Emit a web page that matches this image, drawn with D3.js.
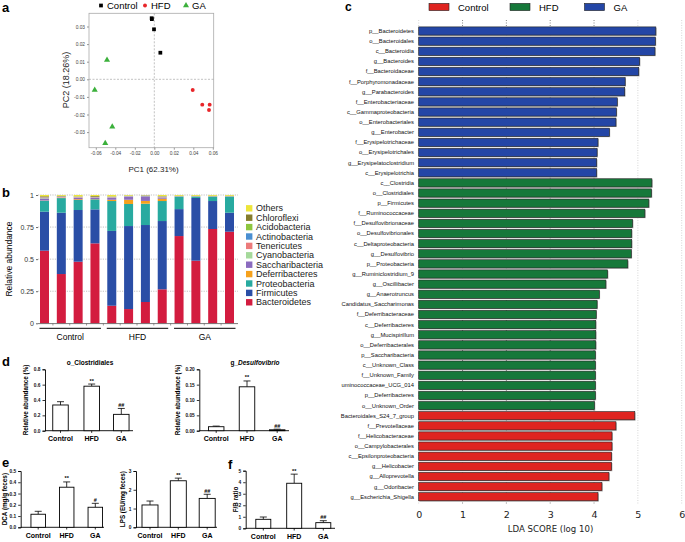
<!DOCTYPE html>
<html><head><meta charset="utf-8">
<script src="https://cdn.jsdelivr.net/npm/d3@7/dist/d3.min.js"></script>
<style>
body{margin:0;background:#fff}
svg{display:block}
text{font-family:"Liberation Sans",Arial,sans-serif}
</style>
</head><body>
<svg id="fig" width="685" height="542"></svg>
<script>
// ---------------- DATA ----------------
// Panel a: PCoA
const pcaControl = [[-0.0027,0.0347],[-0.0025,0.0342],[-0.0003,0.0284],[0.0062,0.0151]];
const pcaHFD     = [[0.0394,-0.0061],[0.0492,-0.0144],[0.0568,-0.0144],[0.0561,-0.0174]];
const pcaGA      = [[-0.0485,0.0110],[-0.0611,-0.0061],[-0.0431,-0.0269],[-0.0503,-0.0364]];
const pcaXTicks = [-0.06,-0.04,-0.02,0,0.02,0.04,0.06];
const pcaYTicks = [-0.03,-0.02,-0.01,0,0.01,0.02,0.03];

// Panel b: relative abundance (12 samples)
const samples = ["C1","C2","C3","C4","H1","H2","H3","H4","G1","G2","G3","G4"];
const sampleGroups = ["Control","HFD","GA"];
const Bacteroidetes    = [0.566,0.384,0.480,0.623,0.137,0.111,0.166,0.265,0.680,0.488,0.735,0.714];
const Firmicutes       = [0.304,0.478,0.403,0.265,0.583,0.647,0.600,0.532,0.210,0.489,0.218,0.148];
const Proteobacteria   = [0.085,0.114,0.078,0.078,0.233,0.172,0.166,0.156,0.097,0.010,0.034,0.125];
const Deferribacteres  = [0.002,0.001,0.006,0.002,0.010,0.033,0.022,0.018,0.001,0.001,0.001,0.001];
const Saccharibacteria = [0.016,0.002,0.012,0.010,0.017,0.024,0.036,0.010,0.001,0.001,0.001,0.001];
const Cyanobacteria    = [0.003,0.002,0.002,0.002,0.002,0.002,0.002,0.002,0.001,0.001,0.001,0.001];
const Tenericutes      = [0.005,0.006,0.003,0.003,0.002,0.002,0.002,0.003,0.001,0.001,0.001,0.001];
const Actinobacteria   = [0.002,0.002,0.002,0.002,0.002,0.002,0.002,0.002,0.001,0.001,0.001,0.001];
const Acidobacteria    = [0.001,0.001,0.001,0.001,0.001,0.001,0.001,0.001,0.001,0.001,0.001,0.001];
const Chloroflexi      = [0.006,0.004,0.002,0.006,0.002,0.001,0.001,0.002,0.001,0.001,0.001,0.001];
const Others           = [0.010,0.006,0.011,0.008,0.011,0.005,0.002,0.009,0.006,0.006,0.006,0.006];
const phyla = ["Bacteroidetes","Firmicutes","Proteobacteria","Deferribacteres","Saccharibacteria",
               "Cyanobacteria","Tenericutes","Actinobacteria","Acidobacteria","Chloroflexi","Others"];
const phylaValues = [Bacteroidetes,Firmicutes,Proteobacteria,Deferribacteres,Saccharibacteria,
                     Cyanobacteria,Tenericutes,Actinobacteria,Acidobacteria,Chloroflexi,Others];
const abundTicks = [0,0.25,0.5,0.75,1];

// Panel c: LEfSe LDA scores
const gaTaxa = ["p__Bacteroidetes","o__Bacteroidales","c__Bacteroidia","g__Bacteroides","f__Bacteroidaceae",
  "f__Porphyromonadaceae","g__Parabacteroides","f__Enterobacteriaceae","c__Gammaproteobacteria",
  "o__Enterobacteriales","g__Enterobacter","f__Erysipelotrichaceae","o__Erysipelotrichales",
  "g__Erysipelatoclostridium","c__Erysipelotrichia"];
const gaScores = [5.41,5.40,5.39,5.04,5.02,4.71,4.70,4.53,4.51,4.50,4.35,4.09,4.07,4.06,4.06];
const hfdTaxa = ["c__Clostridia","o__Clostridiales","p__Firmicutes","f__Ruminococcaceae","f__Desulfovibrionaceae",
  "o__Desulfovibrionales","c__Deltaproteobacteria","g__Desulfovibrio","p__Proteobacteria",
  "g__Ruminiclostridium_9","g__Oscillibacter","g__Anaerotruncus","Candidatus_Saccharimonas",
  "f__Deferribacteraceae","c__Deferribacteres","g__Mucispirillum","o__Deferribacterales",
  "p__Saccharibacteria","c__Unknown_Class","f__Unknown_Family","uminococcaceae_UCG_014",
  "p__Deferribacteres","o__Unknown_Order"];
const hfdScores = [5.32,5.31,5.25,5.16,4.88,4.86,4.86,4.85,4.77,4.31,4.27,4.12,4.07,4.05,4.04,4.04,4.04,
  4.03,4.03,4.03,4.03,4.03,4.01];
const controlTaxa = ["Bacteroidales_S24_7_group","f__Prevotellaceae","f__Helicobacteraceae","o__Campylobacterales",
  "c__Epsilonproteobacteria","g__Helicobacter","g__Alloprevotella","g__Odoribacter","g__Escherichia_Shigella"];
const controlScores = [4.93,4.50,4.41,4.41,4.40,4.40,4.34,4.18,4.09];
const ldaTicks = [0,1,2,3,4,5,6];

// Panels d, e, f: group means and SEM
const groups3 = ["Control","HFD","GA"];
const clostridialesMean = [0.335,0.580,0.213], clostridialesErr = [0.043,0.028,0.077];
const desulfoMean = [0.013,0.143,0.003],      desulfoErr = [0.002,0.019,0.002];
const dcaMean = [0.116,0.356,0.178],          dcaErr = [0.026,0.047,0.035];
const lpsMean = [1.19,2.48,1.54],             lpsErr = [0.21,0.14,0.22];
const fbMean = [0.78,3.91,0.49],              fbErr = [0.20,0.79,0.17];
const sigClostridiales = ["","**","##"];
const sigDesulfo = ["","**","##"];
const sigDCA = ["","**","#"];
const sigLPS = ["","**","##"];
const sigFB = ["","**","##"];

// ---------------- DRAW ----------------
const svg = d3.select("#fig");
function letter(t,x,y){
  svg.append("text").attr("x",x).attr("y",y).text(t)
    .style("font-size","13px").style("font-weight","bold");
}

// ===== Panel a =====
(function(){
  const g = svg.append("g");
  const x = d3.scaleLinear().domain([-0.06,0.06]).range([95.8,212.8]);
  const y = d3.scaleLinear().domain([-0.03,0.03]).range([132.1,26.5]);
  const L=89, R=213.7, T=13.3, B=147.7;
  g.append("rect").attr("x",L).attr("y",T).attr("width",R-L).attr("height",B-T)
    .attr("fill","none").attr("stroke","#aaa").attr("stroke-width",0.8);
  g.append("line").attr("x1",x(0)).attr("x2",x(0)).attr("y1",T).attr("y2",B)
    .attr("stroke","#999").attr("stroke-width",0.6).attr("stroke-dasharray","2,1.5");
  g.append("line").attr("x1",L).attr("x2",R).attr("y1",y(0)).attr("y2",y(0))
    .attr("stroke","#999").attr("stroke-width",0.6).attr("stroke-dasharray","2,1.5");
  const fmt = d => d3.format(".2f")(d).replace("\u2212","-");
  const ax = g.append("g").attr("transform",`translate(0,${B})`)
    .call(d3.axisBottom(x).tickValues(pcaXTicks).tickFormat(fmt).tickSize(2).tickPadding(2));
  const ay = g.append("g").attr("transform",`translate(${L},0)`)
    .call(d3.axisLeft(y).tickValues(pcaYTicks).tickFormat(fmt).tickSize(2).tickPadding(2));
  [ax,ay].forEach(a=>{
    a.select(".domain").remove();
    a.selectAll("line").attr("stroke","#999");
    a.selectAll("text").style("font-size","4.8px").attr("fill","#444");
  });
  g.append("text").attr("transform",`translate(69,80) rotate(-90)`).attr("text-anchor","middle")
    .style("font-size","9px").attr("fill","#222").text("PC2 (18.26%)");
  g.append("text").attr("x",153.5).attr("y",172).attr("text-anchor","middle")
    .style("font-size","8px").attr("fill","#222").text("PC1 (62.31%)");
  const sq = d3.symbol().type(d3.symbolSquare).size(14);
  const tri = d3.symbol().type(d3.symbolTriangle).size(16);
  const cir = d3.symbol().type(d3.symbolCircle).size(12);
  g.selectAll(".pc").data(pcaControl).join("path").attr("d",sq)
    .attr("transform",d=>`translate(${x(d[0])},${y(d[1])})`).attr("fill","#000");
  g.selectAll(".ph").data(pcaHFD).join("path").attr("d",cir)
    .attr("transform",d=>`translate(${x(d[0])},${y(d[1])})`).attr("fill","#e8262a");
  g.selectAll(".pg").data(pcaGA).join("path").attr("d",tri)
    .attr("transform",d=>`translate(${x(d[0])},${y(d[1])})`).attr("fill","#3bb03b");
  // legend
  const lg = [{n:"Control",s:sq,c:"#000",x:101},{n:"HFD",s:cir,c:"#e8262a",x:145},{n:"GA",s:tri,c:"#3bb03b",x:186}];
  lg.forEach(d=>{
    g.append("path").attr("d",d.s).attr("transform",`translate(${d.x},5.5)`).attr("fill",d.c);
    g.append("text").attr("x",d.x+6).attr("y",8.8).style("font-size","9.5px").text(d.n);
  });
  letter("a",2,12);
})();

// ===== Panel b =====
(function(){
  const g = svg.append("g");
  const x = d3.scalePoint().domain(samples).range([44.5,229.5]);
  const y = d3.scaleLinear().domain([0,1]).range([323.3,195]);
  const bw = 9;
  const colors = {Others:"#ede53a",Chloroflexi:"#857c2c",Acidobacteria:"#8dc63f",Actinobacteria:"#4a8fd1",
    Tenericutes:"#ec7b7b",Cyanobacteria:"#a5d99b",Saccharibacteria:"#8b6bbf",Deferribacteres:"#f6a11c",
    Proteobacteria:"#28aaa0",Firmicutes:"#2a4ea6",Bacteroidetes:"#d31c3f"};
  const rows = samples.map((s,i)=>{const r={sample:s}; phyla.forEach((p,k)=>r[p]=phylaValues[k][i]); return r;});
  const stack = d3.stack().keys(phyla)(rows);
  // grid
  g.selectAll(".grid").data([0.25,0.5,0.75,1]).join("line")
    .attr("x1",38).attr("x2",238).attr("y1",d=>y(d)).attr("y2",d=>y(d))
    .attr("stroke","#999").attr("stroke-width",0.6).attr("stroke-dasharray","1.2,1.2");
  stack.forEach(layer=>{
    g.selectAll(null).data(layer).join("rect")
      .attr("x",d=>x(d.data.sample)-bw/2).attr("width",bw)
      .attr("y",d=>y(d[1])).attr("height",d=>Math.max(0,y(d[0])-y(d[1])))
      .attr("fill",colors[layer.key]);
  });
  const ay = g.append("g").attr("transform","translate(38,0)")
    .call(d3.axisLeft(y).tickValues(abundTicks).tickFormat(d=>d===0?"0":d===1?"1":String(d)).tickSize(2).tickPadding(2));
  ay.select(".domain").remove();
  ay.selectAll("line").attr("stroke","#666");
  ay.selectAll("text").style("font-size","7px").attr("fill","#333");
  // x baseline with ticks between bars
  g.append("line").attr("x1",38).attr("x2",238).attr("y1",323.6).attr("y2",323.6).attr("stroke","#555").attr("stroke-width",0.8);
  samples.forEach((s,i)=>{ if(i>0){ const xm=(x(samples[i-1])+x(s))/2;
    g.append("line").attr("x1",xm).attr("x2",xm).attr("y1",323.6).attr("y2",325.5).attr("stroke","#555").attr("stroke-width",0.6);}});
  sampleGroups.forEach((gr,k)=>{
    const x1 = x(samples[k*4])-bw/2-0.5, x2 = x(samples[k*4+3])+bw/2+1.5;
    g.append("line").attr("x1",x1).attr("x2",x2).attr("y1",328.3).attr("y2",328.3).attr("stroke","#000").attr("stroke-width",1);
    g.append("text").attr("x",(x1+x2)/2).attr("y",339.5).attr("text-anchor","middle").style("font-size","8.5px").text(gr);
  });
  g.append("text").attr("transform","translate(12,259) rotate(-90)").attr("text-anchor","middle")
    .style("font-size","8.5px").text("Relative abundance");
  // legend
  const leg = phyla.slice().reverse();
  leg.forEach((p,i)=>{
    const cy = 208.3 + i*9.4;
    g.append("rect").attr("x",246).attr("y",cy-3.2).attr("width",6.4).attr("height",6.4).attr("fill",colors[p]);
    g.append("text").attr("x",256).attr("y",cy+3).style("font-size","9px").attr("fill","#222").text(p);
  });
  letter("b",2,197);
})();

// ===== Panel c =====
(function(){
  const g = svg.append("g");
  const taxa = gaTaxa.concat(hfdTaxa, controlTaxa);
  const scores = gaScores.concat(hfdScores, controlScores);
  const grp = gaTaxa.map(()=>"GA").concat(hfdTaxa.map(()=>"HFD"), controlTaxa.map(()=>"Control"));
  const colors = {Control:"#df2420",HFD:"#16783a",GA:"#2446a6"};
  const x = d3.scaleLinear().domain([0,6]).range([418.7,681.7]);
  const y = d3.scalePoint().domain(taxa).range([31,496.7]);
  const bh = 8.2;
  ldaTicks.forEach(t=>{
    g.append("line").attr("x1",x(t)).attr("x2",x(t)).attr("y1",20).attr("y2",505)
      .attr("stroke",(t>=1&&t<=4)?"#333":"#bbb").attr("stroke-width",0.6).attr("stroke-dasharray","1,1.5");
  });
  taxa.forEach((t,i)=>{
    g.append("rect").attr("x",x(0)+0.8).attr("y",y(t)-bh/2+0.8).attr("width",x(scores[i])-x(0)).attr("height",bh)
      .attr("fill","#aaa");
    g.append("rect").attr("x",x(0)).attr("y",y(t)-bh/2).attr("width",x(scores[i])-x(0)).attr("height",bh)
      .attr("fill",colors[grp[i]]).attr("stroke","#222").attr("stroke-width",0.6);
    g.append("text").attr("x",414).attr("y",y(t)+2).attr("text-anchor","end")
      .style("font-size","5.8px").attr("fill","#111").text(t);
  });
  const ax = g.append("g").attr("transform","translate(0,506)")
    .call(d3.axisBottom(x).tickValues(ldaTicks).tickFormat(d3.format("d")).tickSize(0).tickPadding(5));
  ax.select(".domain").remove();
  ax.selectAll("text").style("font-family","'DejaVu Sans',sans-serif").style("font-size","9.5px").attr("fill","#222");
  g.append("text").attr("x",550.5).attr("y",531.5).attr("text-anchor","middle")
    .style("font-family","'DejaVu Sans',sans-serif").style("font-size","8.6px").attr("fill","#222").text("LDA SCORE (log 10)");
  const lg = [{n:"Control",x:429},{n:"HFD",x:510},{n:"GA",x:584.5}];
  lg.forEach(d=>{
    g.append("rect").attr("x",d.x).attr("y",3.4).attr("width",20).attr("height",7.2)
      .attr("fill",colors[d.n]).attr("stroke","#222").attr("stroke-width",0.6);
    g.append("text").attr("x",d.x+29).attr("y",10.6).style("font-size","9.5px").text(d.n);
  });
  svg.append("text").attr("x",345).attr("y",11).text("c").style("font-size","12px").style("font-weight","bold");
})();

// ===== Panels d, e, f =====
function barPanel(o){
  const g = svg.append("g");
  const y = d3.scaleLinear().domain([0,o.max]).range([o.y0,o.yTop]);
  const fs = "bold";
  g.append("line").attr("x1",o.ax).attr("x2",o.xEnd).attr("y1",o.y0).attr("y2",o.y0).attr("stroke","#000").attr("stroke-width",0.9);
  const ay = g.append("g").attr("transform",`translate(${o.ax},0)`)
    .call(d3.axisLeft(y).tickValues(o.ticks).tickFormat(o.fmt).tickSize(2.5).tickPadding(2));
  ay.select(".domain").attr("stroke","#000").attr("stroke-width",0.9);
  ay.selectAll("line").attr("stroke","#000").attr("stroke-width",0.8);
  ay.selectAll("text").style("font-size","4.8px").style("font-weight",fs).attr("fill","#111");
  groups3.forEach((gr,i)=>{
    const cx = o.cx[i];
    const top = y(o.mean[i]), etop = y(o.mean[i]+o.err[i]);
    g.append("line").attr("x1",cx).attr("x2",cx).attr("y1",top).attr("y2",etop).attr("stroke","#000").attr("stroke-width",0.8);
    g.append("line").attr("x1",cx-3.5).attr("x2",cx+3.5).attr("y1",etop).attr("y2",etop).attr("stroke","#000").attr("stroke-width",0.8);
    g.append("rect").attr("x",cx-o.bw/2).attr("y",top).attr("width",o.bw).attr("height",o.y0-top)
      .attr("fill","#fff").attr("stroke","#000").attr("stroke-width",0.9);
    g.append("line").attr("x1",cx).attr("x2",cx).attr("y1",o.y0).attr("y2",o.y0+2.2).attr("stroke","#000").attr("stroke-width",0.8);
    if(o.sig[i]) g.append("text").attr("x",cx).attr("y",etop-1.5).attr("text-anchor","middle")
      .style("font-size","5.5px").style("font-weight",fs).text(o.sig[i]);
    g.append("text").attr("x",cx).attr("y",o.y0+10.5).attr("text-anchor","middle")
      .style("font-size","7px").style("font-weight",fs).text(gr);
  });
  const yl = g.append("text").attr("transform",`translate(${o.ylx},${(o.y0+o.yTop)/2}) rotate(-90)`)
    .attr("text-anchor","middle").style("font-size","6.3px").style("font-weight",fs);
  yl.text(o.ylabel);
  if(o.title){
    const t = g.append("text").attr("x",o.titleX).attr("y",o.titleY).attr("text-anchor","middle")
      .style("font-size","6.5px").style("font-weight",fs);
    t.append("tspan").text(o.title[0]);
    if(o.title[1]) t.append("tspan").style("font-style","italic").text(o.title[1]);
  }
}
barPanel({ax:45,xEnd:133,y0:430.7,yTop:369.3,max:0.8,ticks:[0,0.2,0.4,0.6,0.8],fmt:d3.format(".1f"),
  cx:[60.5,91.7,121.3],bw:15.5,mean:clostridialesMean,err:clostridialesErr,sig:sigClostridiales,
  ylabel:"Relative abundance (%)",ylx:28,title:["o_Clostridiales"],titleX:90,titleY:365});
barPanel({ax:199.3,xEnd:289,y0:430.7,yTop:369.3,max:0.2,ticks:[0,0.05,0.1,0.15,0.2],fmt:d3.format(".2f"),
  cx:[216.2,247,277.2],bw:15.5,mean:desulfoMean,err:desulfoErr,sig:sigDesulfo,
  ylabel:"Relative abundance (%)",ylx:180,title:["g_","Desulfovibrio"],titleX:255,titleY:365});
barPanel({ax:20.7,xEnd:104,y0:527.3,yTop:471,max:0.5,ticks:[0,0.1,0.2,0.3,0.4,0.5],fmt:d3.format(".1f"),
  cx:[38.2,66.7,95.3],bw:14.5,mean:dcaMean,err:dcaErr,sig:sigDCA,
  ylabel:"DCA (mg/g feces)",ylx:7});
barPanel({ax:136,xEnd:217,y0:527.3,yTop:471,max:3,ticks:[0,1,2,3],fmt:d3.format("d"),
  cx:[150,178.3,207.2],bw:16,mean:lpsMean,err:lpsErr,sig:sigLPS,
  ylabel:"LPS (EU/mg feces)",ylx:125});
barPanel({ax:245.7,xEnd:335,y0:528.3,yTop:470.7,max:5,ticks:[0,1,2,3,4,5],fmt:d3.format("d"),
  cx:[263.3,294.2,323.3],bw:15,mean:fbMean,err:fbErr,sig:sigFB,
  ylabel:"F/B ratio",ylx:238});
letter("d",2,366);
letter("e",2,467);
letter("f",228,469);
</script>
</body></html>
